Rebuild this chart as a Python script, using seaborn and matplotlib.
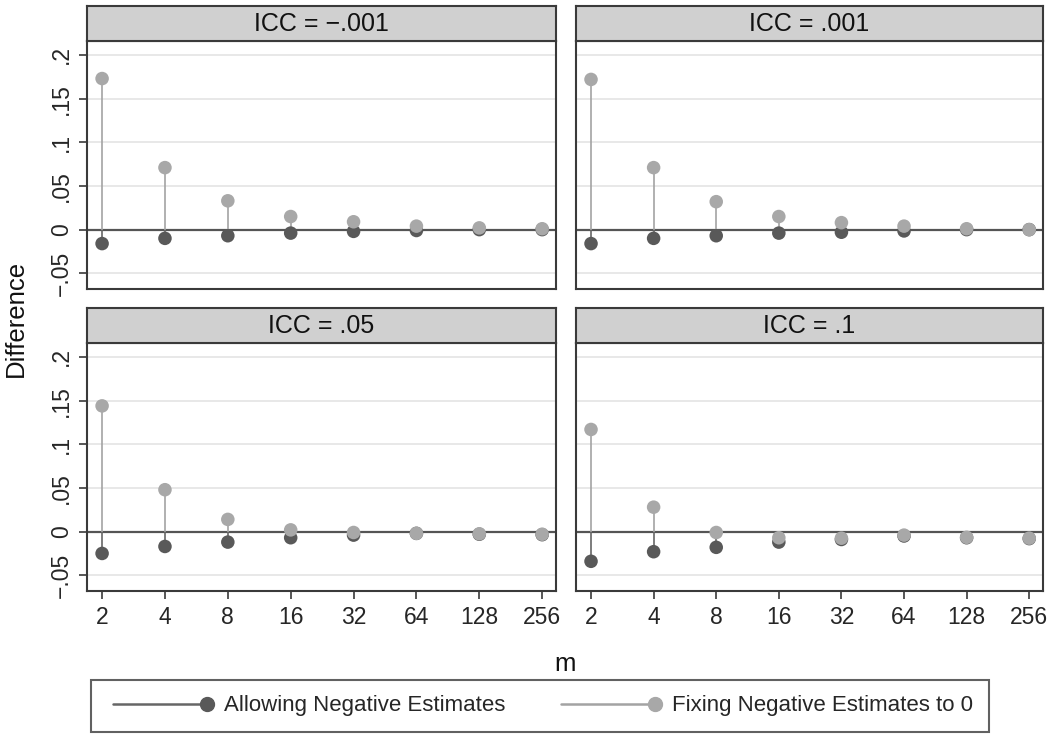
import numpy as np
import pandas as pd
import matplotlib
matplotlib.use("Agg")
import matplotlib.pyplot as plt
from matplotlib.lines import Line2D
from matplotlib.legend_handler import HandlerLine2D
import seaborn as sns

# ---- data ----
m_labels = ["2", "4", "8", "16", "32", "64", "128", "256"]
icc_labels = ["ICC = \u2212.001", "ICC = .001", "ICC = .05", "ICC = .1"]

fix_m001 = [0.173, 0.071, 0.033, 0.015, 0.009, 0.004, 0.002, 0.001]
allow_m001 = [-0.016, -0.010, -0.007, -0.004, -0.002, -0.001, 0.000, 0.000]
fix_001 = [0.172, 0.071, 0.032, 0.015, 0.008, 0.004, 0.001, 0.000]
allow_001 = [-0.016, -0.010, -0.007, -0.004, -0.003, -0.0015, 0.000, 0.000]
fix_05 = [0.144, 0.048, 0.014, 0.002, -0.001, -0.002, -0.0025, -0.003]
allow_05 = [-0.025, -0.017, -0.012, -0.007, -0.004, -0.002, -0.003, -0.0035]
fix_1 = [0.117, 0.028, -0.001, -0.007, -0.0075, -0.004, -0.0065, -0.0075]
allow_1 = [-0.034, -0.023, -0.018, -0.012, -0.009, -0.005, -0.007, -0.008]

fix_all = [fix_m001, fix_001, fix_05, fix_1]
allow_all = [allow_m001, allow_001, allow_05, allow_1]

y_ticks = [-0.05, 0, 0.05, 0.1, 0.15, 0.2]
y_ticklabels = ["\u2212.05", "0", ".05", ".1", ".15", ".2"]

SER_ALLOW = "Allowing Negative Estimates"
SER_FIX = "Fixing Negative Estimates to 0"

rows = []
for lab, fx, al in zip(icc_labels, fix_all, allow_all):
    for m, f, a in zip(m_labels, fx, al):
        rows.append({"icc": lab, "m": m, "series": SER_ALLOW, "diff": a})
        rows.append({"icc": lab, "m": m, "series": SER_FIX, "diff": f})
df = pd.DataFrame(rows)

# ---- style ----
sns.set_style("white")
plt.rcParams["font.family"] = ["Liberation Sans", "DejaVu Sans"]

DARK_PT, DARK_LN = "#595959", "#666666"
LIGHT_PT, LIGHT_LN = "#a8a8a8", "#a3a3a3"
BORDER = "#3a3a3a"
GRID = "#e4e4e4"
STRIP = "#d0d0d0"
palette = {SER_ALLOW: DARK_PT, SER_FIX: LIGHT_PT}
stem_col = {SER_ALLOW: DARK_LN, SER_FIX: LIGHT_LN}


class EndMarkerHandler(HandlerLine2D):
    # legend key: line with a single marker at its right end
    def create_artists(self, *args, **kwargs):
        arts = super().create_artists(*args, **kwargs)
        for a in arts:
            n = len(a.get_xdata())
            a.set_markevery([n - 1])
        return arts


fig = plt.figure(figsize=(10.5, 7.39), dpi=100, facecolor="white")

W, H = 1050, 739
lefts = [87, 576]
widths = [469, 467]
tops = [41, 343]
ax_h = 248
strip_h = 35

pos = np.arange(len(m_labels))

for k, lab in enumerate(icc_labels):
    r, c = divmod(k, 2)
    x0, w = lefts[c], widths[c]
    top = tops[r]
    ax = fig.add_axes([x0 / W, 1 - (top + ax_h) / H, w / W, ax_h / H])
    sub = df[df["icc"] == lab]

    for s in [SER_ALLOW, SER_FIX]:
        d = sub[sub["series"] == s]
        ax.vlines(pos, 0, d["diff"].values, color=stem_col[s], lw=1.2, zorder=2)
        sns.scatterplot(data=d, x="m", y="diff", color=palette[s], s=95,
                        edgecolor="none", ax=ax, zorder=3, legend=False)

    ax.axhline(0, color="#555555", lw=1.6, zorder=1.5)
    for yv in y_ticks:
        if yv != 0:
            ax.axhline(yv, color=GRID, lw=1.2, zorder=0)

    ax.set_xlim(-0.24, 7.22)
    ax.set_ylim(-0.068, 0.216)
    ax.set_xlabel("")
    ax.set_ylabel("")
    ax.grid(False)
    for sp in ax.spines.values():
        sp.set_color(BORDER)
        sp.set_linewidth(1.5)

    ax.set_xticks(pos)
    if r == 1:
        ax.set_xticklabels(m_labels, fontsize=16.5)
        ax.tick_params(axis="x", length=6, width=1.2, color=BORDER, pad=5,
                       bottom=True)
    else:
        ax.set_xticklabels([])
        ax.tick_params(axis="x", length=0)

    ax.set_yticks(y_ticks)
    if c == 0:
        ax.set_yticklabels(y_ticklabels, rotation=90, va="center", fontsize=16.5)
        ax.tick_params(axis="y", length=6, width=1.2, color=BORDER, pad=4,
                       left=True)
    else:
        ax.set_yticklabels([])
        ax.tick_params(axis="y", length=0)

    # strip header
    sax = fig.add_axes([x0 / W, 1 - top / H, w / W, strip_h / H])
    sax.set_facecolor(STRIP)
    sax.set_xticks([])
    sax.set_yticks([])
    for sp in sax.spines.values():
        sp.set_color(BORDER)
        sp.set_linewidth(1.5)
    sax.text(0.5, 0.48, lab, ha="center", va="center", fontsize=18,
             color="#111111", transform=sax.transAxes)

fig.text(16 / W, 1 - 318 / H, "Difference", rotation=90, ha="center",
         va="center", fontsize=18.5, color="#111111")
fig.text(565 / W, 1 - 664 / H, "m", ha="center", va="center",
         fontsize=18.5, color="#111111")

handles = [
    Line2D([0, 1], [0, 0], color=DARK_LN, lw=1.8, marker="o", markersize=10,
           markerfacecolor=DARK_PT, markeredgecolor=DARK_PT),
    Line2D([0, 1], [0, 0], color=LIGHT_LN, lw=1.8, marker="o", markersize=10,
           markerfacecolor=LIGHT_PT, markeredgecolor=LIGHT_PT),
]
leg = fig.legend(handles, [SER_ALLOW, SER_FIX], loc="center",
                 bbox_to_anchor=(540 / W, 1 - 706 / H), ncol=2, fontsize=16,
                 frameon=True, fancybox=False, numpoints=2, handlelength=4.8,
                 handletextpad=0.5, columnspacing=2.2, borderpad=0.7,
                 handler_map={Line2D: EndMarkerHandler()})
leg.get_frame().set_edgecolor(BORDER)
leg.get_frame().set_linewidth(1.5)

fig.savefig("out.png", dpi=100, facecolor="white")
